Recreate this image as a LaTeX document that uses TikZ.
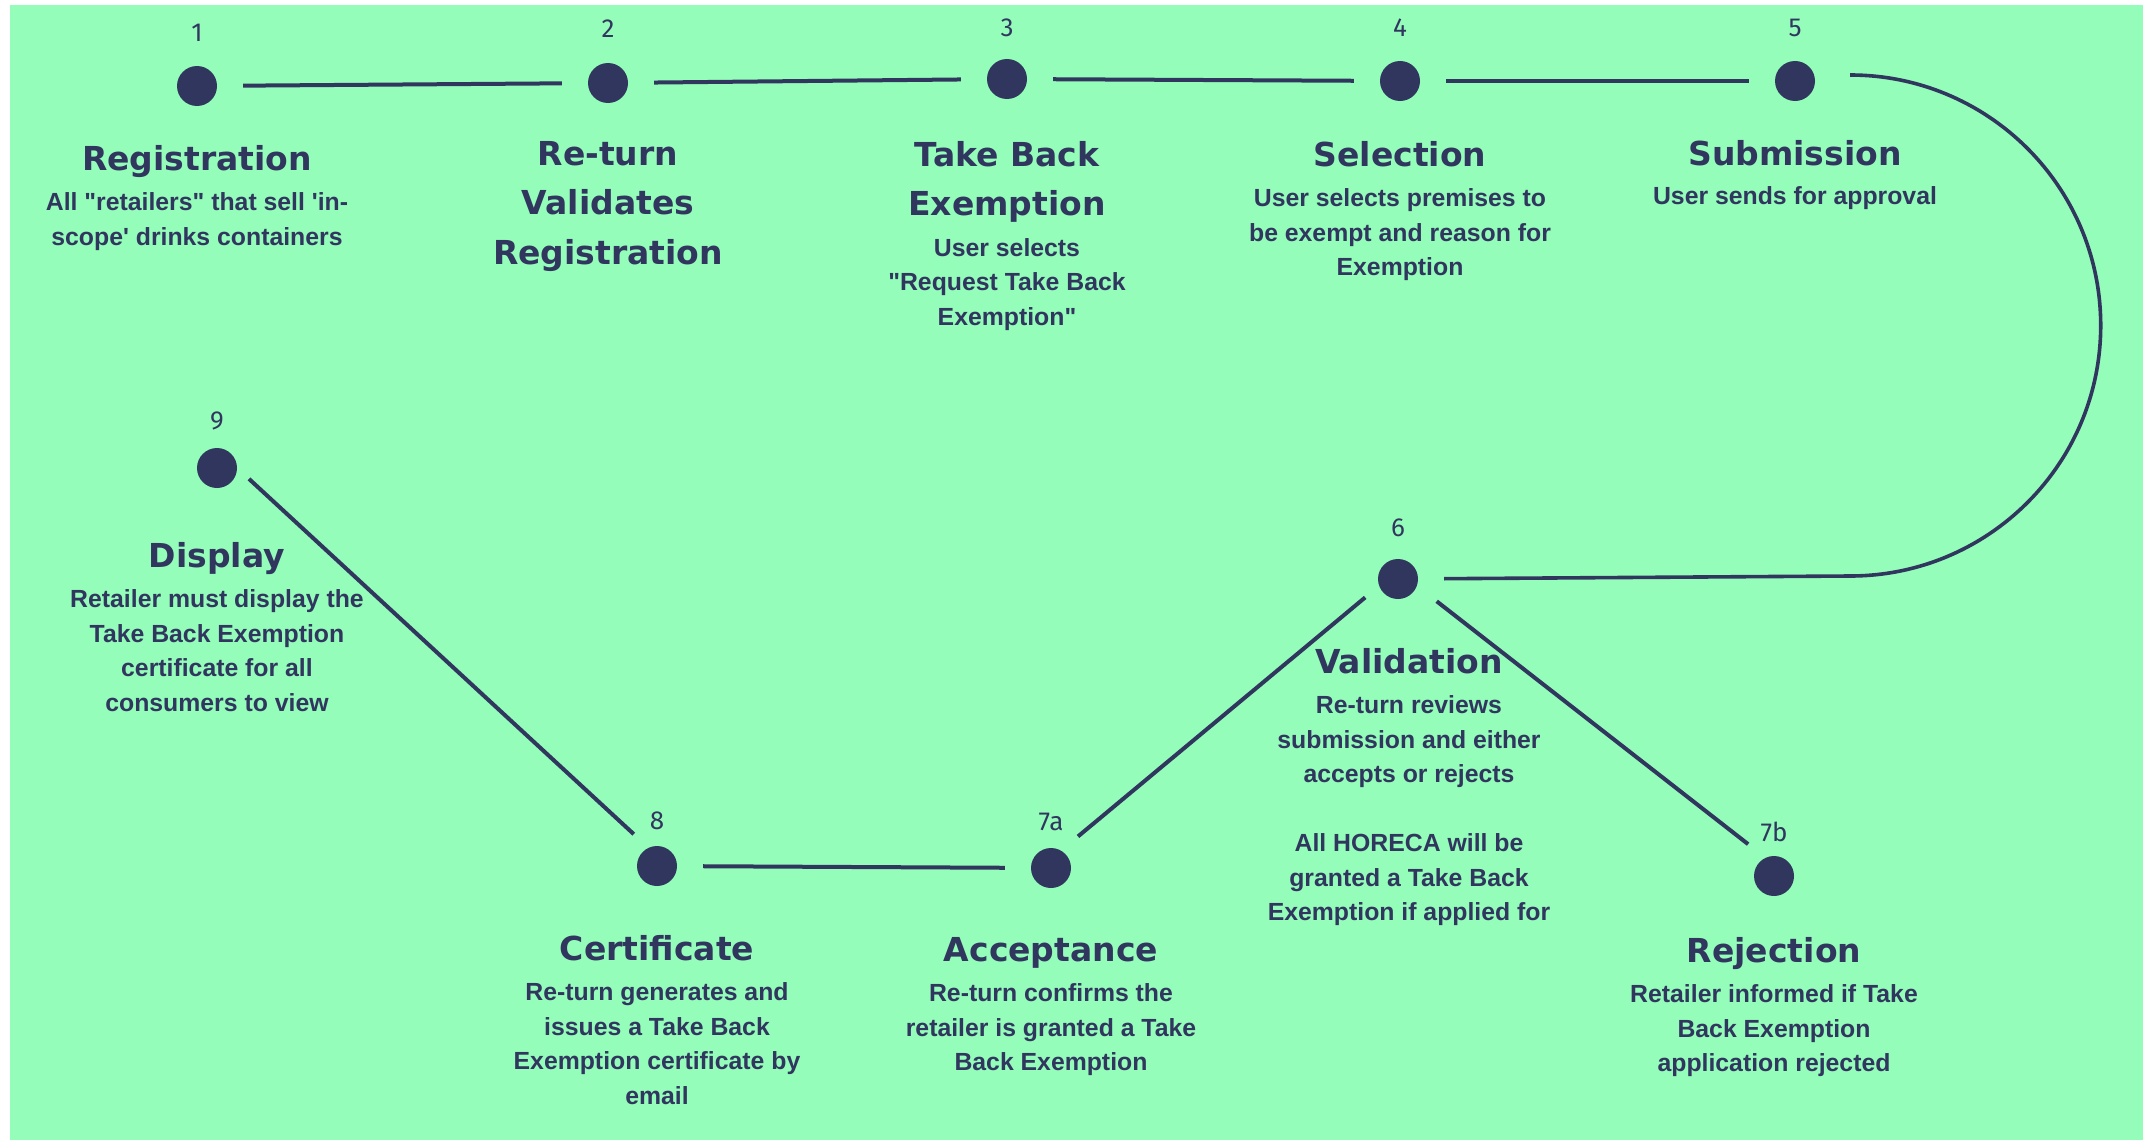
\documentclass[tikz,border=0pt]{standalone}
\usepackage{fontspec}
\usetikzlibrary{positioning}

\newfontfamily\headfont{DejaVu Sans}
\newfontfamily\bodyfont{Liberation Sans}
\newfontfamily\numfont{Fira Sans}
\definecolor{mint}{HTML}{95FDBA}
\definecolor{ink}{HTML}{31365F}

\begin{document}
\begin{tikzpicture}[x=1pt, y=-1pt,
    stage/.style={fill=ink, circle, minimum size=40pt, inner sep=0pt},
    num/.style={inner sep=0pt, text=ink, font=\numfont\fontsize{26}{30}\selectfont},
    head/.style={inner sep=0pt, align=center, text=ink,
        font=\headfont\bfseries\fontsize{33}{49.5}\selectfont,
        execute at begin node=\vphantom{Tl}, execute at end node=\vphantom{g}},
    body/.style={inner sep=0pt, align=center, text=ink,
        font=\bodyfont\bfseries\fontsize{24.8}{34.5}\selectfont,
        execute at begin node=\vphantom{Tl}},
    link/.style={ink, line width=4pt, shorten <=26pt, shorten >=26pt}
]

% --- 0. PAGE ---
\useasboundingbox (0,0) rectangle (2143,1140);
\fill[white] (0,0) rectangle (2143,1140);
\fill[mint] (10,5) rectangle (2143,1140);

% --- 1. STAGES (dots) ---
\node[stage] (s1) at (197,86) {};
\node[stage] (s2) at (608,83) {};
\node[stage] (s3) at (1007,79) {};
\node[stage] (s4) at (1400,81) {};
\node[stage] (s5) at (1795,81) {};
\node[stage] (s6) at (1398,579) {};
\node[stage] (s7a) at (1051,868) {};
\node[stage] (s7b) at (1774,876) {};
\node[stage] (s8) at (657,866) {};
\node[stage] (s9) at (217,468) {};

% step numbers
\node[num, above=24pt of s1] (n1) {1};
\node[num, above=25pt of s2] (n2) {2};
\node[num, above=22pt of s3] (n3) {3};
\node[num, above=24pt of s4] (n4) {4};
\node[num, above=24pt of s5] (n5) {5};
\node[num, above=22pt of s6] (n6) {6};
\node[num, above=17pt of s7a] (n7a) {7a};
\node[num, above=14pt of s7b] (n7b) {7b};
\node[num, above=16pt of s8] (n8) {8};
\node[num, above=18pt of s9] (n9) {9};

% --- 2. TOP ROW TEXT ---
\node[head, below=39pt of s1] (h1) {Registration};
\node[body, below=15pt of h1] (b1) {All "retailers" that sell \textquotesingle in-\\scope\textquotesingle\ drinks containers};

\node[head, below=38pt of s2] (h2) {Re-turn\\Validates\\Registration};

\node[head, below=42pt of s3] (h3) {Take Back\\Exemption};
\node[body, below=15pt of h3] (b3) {User selects\\"Request Take Back\\Exemption"};

\node[head, below=40pt of s4] (h4) {Selection};
\node[body, below=15pt of h4] (b4) {User selects premises to\\be exempt and reason for\\Exemption};

\node[head, below=39pt of s5] (h5) {Submission};
\node[body, below=14pt of h5] (b5) {User sends for approval};

% --- 3. BOTTOM ROW TEXT ---
\node[head, below=49pt of s6, xshift=11pt] (h6) {Validation};
\node[body, below=15pt of h6] (b6) {Re-turn reviews\\submission and either\\accepts or rejects\\[34.5pt]All HORECA will be\\granted a Take Back\\Exemption if applied for};

\node[head, below=48pt of s7a] (h7a) {Acceptance};
\node[body, below=15pt of h7a] (b7a) {Re-turn confirms the\\retailer is granted a Take\\Back Exemption};

\node[head, below=41pt of s7b] (h7b) {Rejection};
\node[body, below=15pt of h7b] (b7b) {Retailer informed if Take\\Back Exemption\\application rejected};

\node[head, below=49pt of s8] (h8) {Certificate};
\node[body, below=15pt of h8] (b8) {Re-turn generates and\\issues a Take Back\\Exemption certificate by\\email};

\node[head, below=54pt of s9] (h9) {Display};
\node[body, below=15pt of h9] (b9) {Retailer must display the\\Take Back Exemption\\certificate for all\\consumers to view};

% --- 4. CONNECTORS ---
\draw[link] (s1) -- (s2);
\draw[link] (s2) -- (s3);
\draw[link] (s3) -- (s4);
\draw[link] (s4) -- (s5);
% round the bend from 5 back to 6
\draw[link, line width=3.6pt, shorten <=0pt] ([xshift=35pt, yshift=6pt]s5.east) arc[start angle=-90, end angle=90, radius=250.5] -- (s6);
\draw[link, shorten <=18pt, shorten >=22pt] (s6.200) -- (s7a.60);
\draw[link, shorten <=25pt, shorten >=22pt] (s6.-20) -- (s7b.115);
\draw[link] (s7a) -- (s8);
\draw[link, shorten <=20pt, shorten >=16pt] (s8.115) -- (s9.0);

\end{tikzpicture}
\end{document}
